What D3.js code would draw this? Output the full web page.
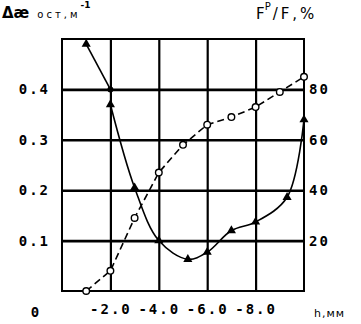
<!DOCTYPE html>
<html>
<head>
<meta charset="utf-8">
<script src="https://cdn.jsdelivr.net/npm/d3@7"></script>
<style>
  body { margin: 0; background: #fff; }
  svg { display: block; }
  .tick text { font-family: "DejaVu Sans Mono", monospace; font-weight: bold; font-size: 14px; letter-spacing: 2px; fill: #000; }
</style>
</head>
<body>
<div id="chart"></div>
<script>
// h, mm (depth) for the F^P/F curve (open circles, right axis)
const hCircle = [-1, -2, -3, -4, -5, -6, -7, -8, -9, -10];
const fpRatio = [0, 8, 29, 47, 58, 66, 69, 73, 79, 85];

// delta kappa residual (triangles, left axis)
const hTop = [-1, -2];
const aeTop = [0.49, 0.40];
const hTri = [-2, -3, -4, -5.2, -6, -7, -8, -9.3, -10];
const aeTri = [0.37, 0.205, 0.10, 0.063, 0.077, 0.12, 0.137, 0.186, 0.34];

const leftTicks = [0.1, 0.2, 0.3, 0.4];
const rightTicks = [20, 40, 60, 80];
const xTicks = [-2, -4, -6, -8];

const W = 361, H = 324;
const margin = { top: 39, right: 57, bottom: 33, left: 62 };
const width = W - margin.left - margin.right;
const height = H - margin.top - margin.bottom;

const svg = d3.select('#chart').append('svg')
    .attr('width', W)
    .attr('height', H);

const g = svg.append('g')
    .attr('transform', `translate(${margin.left},${margin.top})`);

// scales
const x = d3.scaleLinear().domain([0, -10]).range([0, width]);
const yL = d3.scaleLinear().domain([0, 0.5]).range([height, 0]);
const yR = d3.scaleLinear().domain([0, 100]).range([height, 0]);

// left axis + horizontal grid
const ax = g.append('g')
    .call(d3.axisLeft(yL).tickValues(leftTicks).tickSize(-width).tickPadding(12)
        .tickFormat(d => d.toFixed(1)));
ax.select('.domain').remove();
ax.selectAll('.tick line').attr('stroke', '#000').attr('stroke-width', 2.6);

// bottom axis + vertical grid
const bx = g.append('g')
    .attr('transform', `translate(0,${height})`)
    .call(d3.axisBottom(x).tickValues(xTicks).tickSize(-height).tickPadding(13)
        .tickFormat(d => d.toFixed(1)));
bx.select('.domain').remove();
bx.selectAll('.tick line').attr('stroke', '#000').attr('stroke-width', 2.2);

// right axis labels
const rx = g.append('g')
    .attr('transform', `translate(${width},0)`)
    .call(d3.axisRight(yR).tickValues(rightTicks).tickSize(0).tickPadding(5));
rx.select('.domain').remove();

// frame
g.append('rect')
    .attr('width', width)
    .attr('height', height)
    .attr('fill', 'none')
    .attr('stroke', '#000')
    .attr('stroke-width', 2);

// triangle curve (left axis)
g.append('path')
    .datum(hTop.map((h, i) => [h, aeTop[i]]))
    .attr('fill', 'none')
    .attr('stroke', '#000')
    .attr('stroke-width', 1.6)
    .attr('d', d3.line().x(d => x(d[0])).y(d => yL(d[1])));

g.append('path')
    .datum(hTri.map((h, i) => [h, aeTri[i]]))
    .attr('fill', 'none')
    .attr('stroke', '#000')
    .attr('stroke-width', 1.6)
    .attr('d', d3.line().x(d => x(d[0])).y(d => yL(d[1])).curve(d3.curveCatmullRom.alpha(0.5)));

g.selectAll('.tri')
    .data(hTri.map((h, i) => [h, aeTri[i]]).concat([[hTop[0], aeTop[0]]]))
    .enter().append('path')
    .attr('transform', d => `translate(${x(d[0])},${yL(d[1])})`)
    .attr('d', d3.symbol(d3.symbolTriangle).size(36))
    .attr('fill', '#000');

g.append('circle')
    .attr('cx', x(hTop[1]))
    .attr('cy', yL(aeTop[1]))
    .attr('r', 3)
    .attr('fill', '#000');

// circle curve (right axis)
const circ = hCircle.map((h, i) => [h, fpRatio[i]]);
g.append('path')
    .datum(circ)
    .attr('fill', 'none')
    .attr('stroke', '#000')
    .attr('stroke-width', 1.6)
    .attr('stroke-dasharray', '7,4')
    .attr('d', d3.line().x(d => x(d[0])).y(d => yR(d[1])));

g.selectAll('.dot')
    .data(circ)
    .enter().append('circle')
    .attr('cx', d => x(d[0]))
    .attr('cy', d => yR(d[1]))
    .attr('r', 3.3)
    .attr('fill', '#fff')
    .attr('stroke', '#000')
    .attr('stroke-width', 1.4);

// titles and loose labels
const t1 = svg.append('text')
    .attr('x', 2).attr('y', 18)
    .style('font-family', '"DejaVu Sans", sans-serif');
t1.append('tspan').style('font-size', '15px').style('font-weight', 'bold').text('Δæ');
t1.append('tspan').attr('dx', 8).style('font-size', '10px').style('letter-spacing', '3px').text('ост,м');
t1.append('tspan').attr('dy', -10).style('font-size', '9px').style('font-weight', 'bold').text('-1');

const t2 = svg.append('text')
    .attr('x', 256).attr('y', 19)
    .style('font-family', '"DejaVu Sans", sans-serif')
    .style('font-size', '15px');
t2.append('tspan').text('F');
t2.append('tspan').attr('dy', -9).style('font-size', '10px').text('P');
t2.append('tspan').attr('dy', 9).attr('dx', 2).style('letter-spacing', '3px').text('/F,%');

svg.append('text')
    .attr('x', 35).attr('y', 317)
    .attr('text-anchor', 'middle')
    .style('font-family', '"DejaVu Sans Mono", monospace')
    .style('font-weight', 'bold')
    .style('font-size', '14px')
    .text('0');

svg.append('text')
    .attr('x', 314).attr('y', 317)
    .style('font-family', '"DejaVu Sans", sans-serif')
    .style('font-size', '11px')
    .style('letter-spacing', '1px')
    .text('h,мм');
</script>
</body>
</html>
